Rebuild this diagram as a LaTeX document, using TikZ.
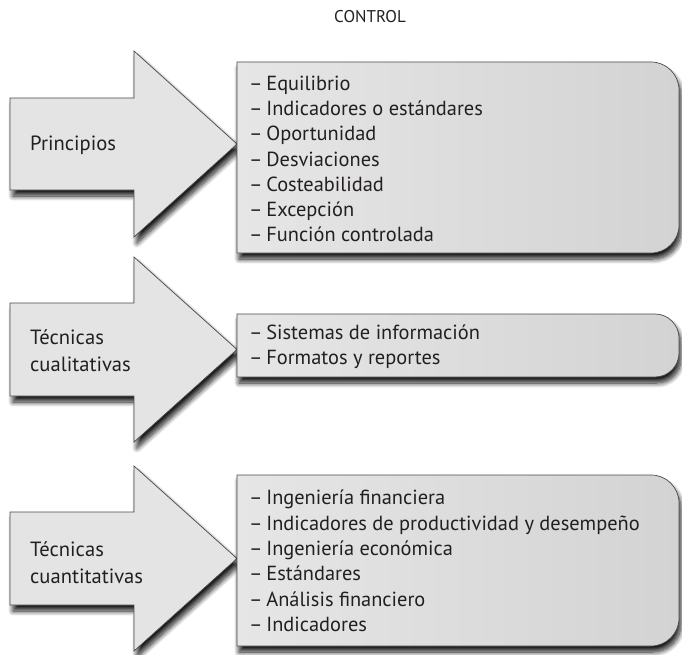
\documentclass[tikz,border=0pt]{standalone}
\usepackage{fontspec}
\setmainfont{PT Sans}
\usetikzlibrary{shadows.blur}
\definecolor{arrowfill}{HTML}{E4E4E4}
\definecolor{boxleft}{HTML}{E6E6E6}
\definecolor{boxright}{HTML}{D3D3D3}
\definecolor{edge}{HTML}{4A4A4A}
\definecolor{ink}{HTML}{231F20}
\newcommand{\itm}{–\hspace{0.18em}}
\tikzset{
  bigarrow/.style={fill=arrowfill, draw=edge, line width=0.7pt,
    blur shadow={shadow xshift=3pt, shadow yshift=-6pt, shadow blur radius=5pt, shadow blur steps=10, shadow opacity=90}},
  listbox/.style={left color=boxleft, right color=boxright, draw=edge, line width=0.7pt,
    blur shadow={shadow xshift=2pt, shadow yshift=-6pt, shadow blur radius=5pt, shadow blur steps=10, shadow opacity=90}},
  itemtext/.style={anchor=west, align=left, inner sep=0pt, font=\fontsize{20.4}{25.3}\selectfont, text=ink},
  labeltext/.style={anchor=west, align=left, inner sep=0pt, font=\fontsize{20.6}{27}\selectfont, text=ink},
  titletext/.style={inner sep=0pt, font=\fontsize{17}{20}\selectfont, text=ink}
}
\begin{document}
\begin{tikzpicture}[x=1pt,y=-1pt]
\useasboundingbox (0,0) rectangle (682,655);
\node[titletext] (title) at (370,17) {CONTROL};

% arrows
\path[bigarrow] (10,98) -- (134,98) -- (134,51) -- (237,144) -- (134,237) -- (134,190) -- (10,190) -- cycle;
\path[bigarrow] (10,303) -- (134,303) -- (134,257) -- (237,349.5) -- (134,442) -- (134,396) -- (10,396) -- cycle;
\path[bigarrow] (10,512) -- (134,512) -- (134,466) -- (237,558.5) -- (134,651) -- (134,605) -- (10,605) -- cycle;

% boxes
\path[listbox] (237,62) -- (651,62) .. controls (666.5,62) and (679,74.5) .. (679,90) -- (679,225) .. controls (679,240.5) and (666.5,253) .. (651,253) -- (237,253) -- cycle;
\path[listbox] (237,314) -- (655,314) .. controls (668.2,314) and (679,324.8) .. (679,338) -- (679,353) .. controls (679,366.2) and (668.2,377) .. (655,377) -- (237,377) -- cycle;
\path[listbox] (237,475) -- (651,475) .. controls (666.5,475) and (679,487.5) .. (679,503) -- (679,618) .. controls (679,633.5) and (666.5,646) .. (651,646) -- (237,646) -- cycle;

% labels
\node[labeltext] (l1) at (30,145) {Principios};
\node[labeltext] (l2) at (30,351) {Técnicas\\cualitativas};
\node[labeltext] (l3) at (30,563) {Técnicas\\cuantitativas};

% lists
\node[itemtext] (t1) at (249,159) {\itm Equilibrio\\\itm Indicadores o estándares\\\itm Oportunidad\\\itm Desviaciones\\\itm Costeabilidad\\\itm Excepción\\\itm Función controlada};
\node[itemtext] (t2) at (249,347) {\itm Sistemas de información\\\itm Formatos y reportes};
\node[itemtext] (t3) at (249,561) {\itm Ingeniería financiera\\\itm Indicadores de productividad y desempeño\\\itm Ingeniería económica\\\itm Estándares\\\itm Análisis financiero\\\itm Indicadores};
\end{tikzpicture}
\end{document}
